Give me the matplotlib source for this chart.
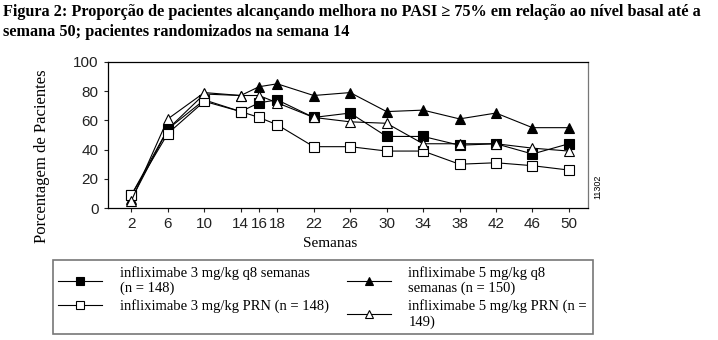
import matplotlib.pyplot as plt

weeks = [2, 6, 10, 14, 16, 18, 22, 26, 30, 34, 38, 42, 46, 50]
q8_3mg = [9, 54, 74, 66, 72, 74, 62, 65, 49, 49, 43, 44, 37, 44]
prn_3mg = [9, 51, 73, 66, 62, 57, 42, 42, 39, 39, 30, 31, 29, 26]
q8_5mg = [6, 54, 78, 77, 83, 85, 77, 79, 66, 67, 61, 65, 55, 55]
prn_5mg = [5, 61, 79, 77, 77, 72, 62, 59, 58, 44, 44, 44, 41, 39]

labels = ["infliximabe 3 mg/kg q8 semanas\n(n = 148)",
          "infliximabe 3 mg/kg PRN (n = 148)",
          "infliximabe 5 mg/kg q8\nsemanas (n = 150)",
          "infliximabe 5 mg/kg PRN (n =\n149)"]

fig = plt.figure(figsize=(7.18, 3.4), dpi=100)
ax = fig.add_axes([0.150, 0.388, 0.669, 0.430])

kw = dict(color="black", lw=0.8, markersize=7, markeredgewidth=0.8, clip_on=False)
l1, = ax.plot(weeks, q8_3mg, marker="s", markerfacecolor="black", **kw)
l3, = ax.plot(weeks, q8_5mg, marker="^", markerfacecolor="black", **kw)
l2, = ax.plot(weeks, prn_3mg, marker="s", markerfacecolor="white", **kw)
l4, = ax.plot(weeks, prn_5mg, marker="^", markerfacecolor="white", **kw)

ax.set_xlim(-0.6, 52.1)
ax.set_ylim(0, 100)
ax.set_xticks(weeks)
ax.set_yticks([0, 20, 40, 60, 80, 100])
ax.tick_params(labelsize=11, colors="#222222", length=3, width=0.8)
for lab in ax.get_xticklabels() + ax.get_yticklabels():
    lab.set_family("Liberation Sans")
for s in ax.spines.values():
    s.set_linewidth(0.9)
ax.spines["right"].set_color("#777777")

fig.text(0.058, 0.54, "Porcentagem de Pacientes", family="Liberation Serif", fontsize=12,
         rotation=90, ha="center", va="center")
fig.text(0.46, 0.285, "Semanas", family="Liberation Serif", fontsize=11, ha="center", va="center")
fig.text(0.833, 0.45, "11302", family="Liberation Sans", fontsize=6.5, rotation=90, ha="center", va="center")

fig.text(0.004, 0.965, "Figura 2: Proporção de pacientes alcançando melhora no PASI ≥ 75% em relação ao nível basal até a",
         family="Liberation Serif", fontsize=11.7, weight="bold", ha="left", va="center")
fig.text(0.004, 0.905, "semana 50; pacientes randomizados na semana 14",
         family="Liberation Serif", fontsize=11.7, weight="bold", ha="left", va="center")

leg = fig.legend([l1, l2, l3, l4], labels, ncol=2, loc="upper left", mode="expand",
                 bbox_to_anchor=(0.063, 0.035, 0.773, 0.221), frameon=True, fancybox=False,
                 edgecolor="#555555", handlelength=3, handletextpad=1.2, columnspacing=1.5,
                 labelspacing=0.25, borderpad=0.4, markerscale=0.8,
                 prop={"family": "Liberation Serif", "size": 10.5})
leg.get_frame().set_linewidth(1.2)

fig.savefig("out.png", dpi=100)
